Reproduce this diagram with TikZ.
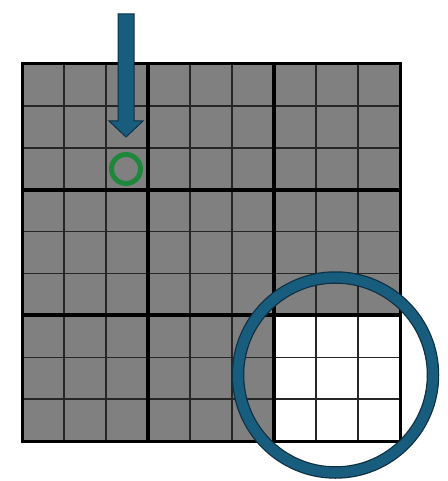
\documentclass[tikz,border=0pt]{standalone}
\definecolor{tealblue}{RGB}{24,92,126}
\definecolor{darkedge}{RGB}{14,48,66}
\definecolor{ringgreen}{RGB}{30,135,60}
\definecolor{cellgray}{RGB}{128,128,128}
\tikzset{
  thinline/.style={line width=1.6pt, draw=black!85},
  thickline/.style={line width=4pt, draw=black},
  borderline/.style={line width=3pt, draw=black},
}
\begin{document}
\begin{tikzpicture}[x=1pt,y=-1pt]
\useasboundingbox (0,0) rectangle (447,481);
% grid fill
\fill[cellgray] (22,64) rectangle (400,441);
\fill[white] (274,316) rectangle (400,441);
% thin lines
\foreach \i in {1,2,4,5,7,8}{
  \draw[thinline] ({22+42*\i},64) -- ({22+42*\i},441);
  \draw[thinline] (22,{64+41.9*\i}) -- (400,{64+41.9*\i});
}
% thick lines
\foreach \i in {3,6}{
  \draw[thickline] ({22+42*\i},64) -- ({22+42*\i},441);
  \draw[thickline] (22,{64+41.9*\i}) -- (400,{64+41.9*\i});
}
\draw[borderline] (22,64) rectangle (400,441);
% magnifier ring
\draw[darkedge, line width=12.5pt] (335.5,375) circle (97.5);
\draw[tealblue, line width=10pt] (335.5,375) circle (97.5);
% arrow
\filldraw[fill=tealblue, draw=darkedge, line width=1pt]
  (118,14) -- (134,14) -- (134,121) -- (143,121) -- (126,137) -- (109,121) -- (118,121) -- cycle;
% green ring
\draw[ringgreen, line width=5pt] (126,169) circle (14.5);
\end{tikzpicture}
\end{document}
